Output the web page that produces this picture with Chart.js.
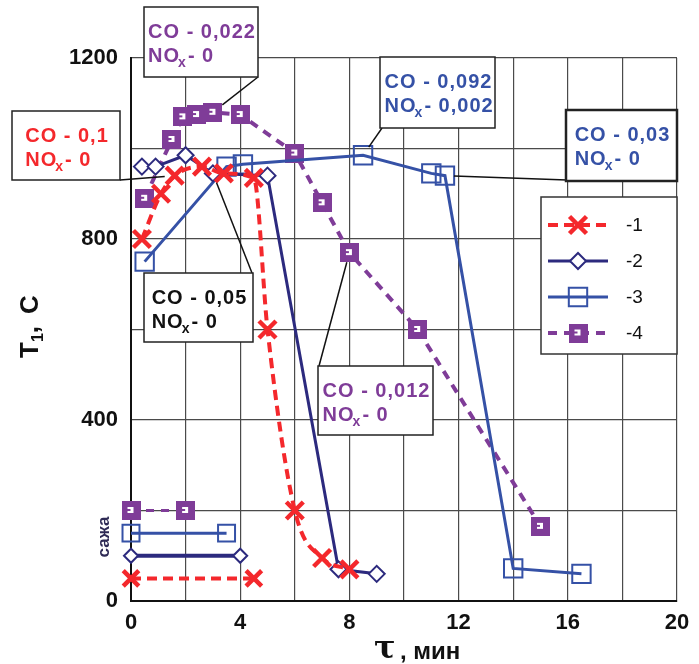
<!DOCTYPE html>
<html>
<head>
<meta charset="utf-8">
<script src="https://cdn.jsdelivr.net/npm/chart.js@4.4.1/dist/chart.umd.min.js"></script>
<style>
  html, body { margin: 0; padding: 0; background: #fff; }
</style>
</head>
<body>
<canvas id="chart" width="699" height="664"></canvas>
<script>
// series labels (legend)
const seriesLabels = ['-1', '-2', '-3', '-4'];

// curve 1 (red, dashed, X)
const x1 = [0.4, 1.1, 1.6, 2.6, 3.4, 4.5, 5.0, 6.0, 7.0, 8.0];
const y1 = [800, 900, 940, 960, 945, 935, 600, 200, 95, 70];
// curve 2 (navy, diamonds)
const x2 = [0.4, 0.9, 2.0, 3.0, 5.0, 7.6, 9.0];
const y2 = [960, 960, 985, 945, 940, 70, 60];
// curve 3 (blue, open squares)
const x3 = [0.5, 3.5, 4.1, 8.5, 11.0, 11.5, 14.0, 16.5];
const y3 = [750, 960, 965, 985, 945, 940, 72, 60];
// curve 4 (purple, dashed, filled squares)
const x4 = [0.5, 1.5, 1.9, 2.4, 3.0, 4.0, 6.0, 7.0, 8.0, 10.5, 15.0];
const y4 = [890, 1020, 1070, 1075, 1080, 1075, 990, 880, 770, 600, 165];

// soot ("сажа") duration bars
const sootX1 = [0, 4.5], sootY1 = [50, 50];
const sootX2 = [0, 4.0], sootY2 = [100, 100];
const sootX3 = [0, 3.5], sootY3 = [150, 150];
const sootX4 = [0, 2.0], sootY4 = [200, 200];

// callout texts
const calloutTexts = [
  ['CO - 0,022', 'NOx- 0'],
  ['CO - 0,1', 'NOx- 0'],
  ['CO - 0,05', 'NOx- 0'],
  ['CO - 0,092', 'NOx- 0,002'],
  ['CO - 0,03', 'NOx- 0'],
  ['CO - 0,012', 'NOx- 0']
];

const RED = '#f4282c', NAVY = '#2c2a7e', BLUE = '#3551a6', PURPLE = '#7f3c98';
const FONT = '"Liberation Sans", Arial, sans-serif';

function pts(xs, ys) {
  return xs.map(function(x, i) { return {x: x, y: ys[i]}; });
}

function purpleMark() {
  const c = document.createElement('canvas');
  c.width = 19; c.height = 19;
  const g = c.getContext('2d');
  g.fillStyle = PURPLE;
  g.fillRect(0, 0, 19, 19);
  g.fillStyle = '#fff';
  g.fillRect(6, 6, 6, 6);
  g.fillStyle = PURPLE;
  g.fillRect(6, 8, 3, 2);
  return c;
}
const purpleImg = purpleMark();

const style1 = {borderColor: RED, borderWidth: 4, borderDash: [10, 6], pointStyle: 'crossRot',
  pointRadius: 12, pointBorderWidth: 4.5, pointBorderColor: RED, pointBackgroundColor: RED,
  cubicInterpolationMode: 'monotone'};
const style2 = {borderColor: NAVY, borderWidth: 3, pointStyle: 'rectRot', pointRadius: 8,
  pointBorderWidth: 2, pointBorderColor: NAVY, pointBackgroundColor: '#fff'};
const style3 = {borderColor: BLUE, borderWidth: 3, pointStyle: 'rect', pointRadius: 13,
  pointBorderWidth: 2, pointBorderColor: BLUE, pointBackgroundColor: 'rgba(255,255,255,0)'};
const style4 = {borderColor: PURPLE, borderWidth: 4, borderDash: [9, 7], pointStyle: purpleImg,
  pointRadius: 9, pointBorderColor: PURPLE, pointBackgroundColor: PURPLE};

function ds(label, data, st, extra) {
  return Object.assign({label: label, data: data, fill: false, tension: 0, clip: false}, st, extra || {});
}

const datasets = [
  ds(seriesLabels[0], pts(x1, y1), style1),
  ds(seriesLabels[1], pts(x2, y2), style2),
  ds(seriesLabels[2], pts(x3, y3), style3),
  ds(seriesLabels[3], pts(x4, y4), style4),
  ds('soot1', pts(sootX1, sootY1), style1, {pointRadius: 11}),
  ds('soot2', pts(sootX2, sootY2), style2, {borderWidth: 4, pointRadius: 7}),
  ds('soot3', pts(sootX3, sootY3), style3, {pointRadius: 12}),
  ds('soot4', pts(sootX4, sootY4), style4, {borderDash: [8, 7], borderWidth: 3})
];

// callout layout: box [x, y, w, h], leader start, target point
const callouts = [
  {text: calloutTexts[0], color: PURPLE, box: [144, 7, 114, 70], attach: [258, 77], ds: 3, idx: 4, gap: 12},
  {text: calloutTexts[1], color: RED, box: [12, 111, 108, 69], attach: [120, 180], ds: 0, idx: 2, gap: 10},
  {text: calloutTexts[2], color: '#111', box: [144, 273, 109, 69], attach: [252, 273], ds: 1, idx: 3, gap: 10},
  {text: calloutTexts[3], color: BLUE, box: [380, 57, 115, 71], attach: [382, 128], ds: 2, idx: 3, gap: 10},
  {text: calloutTexts[4], color: BLUE, box: [566, 110, 111, 71], attach: [567, 180], ds: 2, idx: 5, gap: 9, bw: 2.5},
  {text: calloutTexts[5], color: PURPLE, box: [318, 366, 115, 69], attach: [319, 366], ds: 3, idx: 8, gap: 10}
];

function drawNOx(ctx, str, x, y) {
  const big = 'bold 20px ' + FONT, sub = 'bold 14px ' + FONT;
  if (str.indexOf('NOx') === 0) {
    ctx.font = big;
    ctx.fillText('NO', x, y);
    let w = ctx.measureText('NO').width - 2;
    ctx.font = sub;
    ctx.fillText('x', x + w, y + 5);
    w += ctx.measureText('x').width + 1;
    ctx.font = big;
    ctx.fillText(str.slice(3), x + w, y);
  } else {
    ctx.font = big;
    ctx.fillText(str, x, y);
  }
}

function marker(ctx, d, x, y) {
  ctx.save();
  ctx.setLineDash([]);
  ctx.strokeStyle = d.pointBorderColor;
  ctx.fillStyle = d.pointBackgroundColor;
  ctx.lineWidth = d.pointBorderWidth || 1;
  if (Chart.helpers && Chart.helpers.drawPoint) {
    Chart.helpers.drawPoint(ctx, {pointStyle: d.pointStyle, rotation: 0, radius: d.pointRadius, borderWidth: d.pointBorderWidth || 1}, x, y);
  }
  ctx.restore();
}

const overlay = {
  id: 'overlay',
  afterDraw(chart) {
    const ctx = chart.ctx;
    const xs = chart.scales.x, ys = chart.scales.y;
    ctx.save();
    ctx.letterSpacing = '1px';

    // callouts
    callouts.forEach(function(c) {
      const p = chart.data.datasets[c.ds].data[c.idx];
      const px = xs.getPixelForValue(p.x), py = ys.getPixelForValue(p.y);
      const dx = c.attach[0] - px, dy = c.attach[1] - py, len = Math.hypot(dx, dy);
      ctx.setLineDash([]);
      ctx.strokeStyle = '#111';
      ctx.lineWidth = 1.5;
      ctx.beginPath();
      ctx.moveTo(c.attach[0], c.attach[1]);
      ctx.lineTo(px + dx / len * c.gap, py + dy / len * c.gap);
      ctx.stroke();

      const b = c.box;
      ctx.fillStyle = '#fff';
      ctx.fillRect(b[0], b[1], b[2], b[3]);
      ctx.lineWidth = c.bw || 1.5;
      ctx.strokeStyle = '#222';
      ctx.strokeRect(b[0], b[1], b[2], b[3]);

      ctx.font = 'bold 20px ' + FONT;
      const w = ctx.measureText(c.text[0]).width;
      const tx = b[0] + (b[2] - w) / 2 + 1;
      ctx.fillStyle = c.color;
      ctx.textAlign = 'left';
      ctx.textBaseline = 'alphabetic';
      drawNOx(ctx, c.text[0], tx, b[1] + 31);
      drawNOx(ctx, c.text[1], tx, b[1] + 55);
    });
    ctx.letterSpacing = '0px';

    // legend
    ctx.setLineDash([]);
    ctx.fillStyle = '#fff';
    ctx.fillRect(541, 197, 136, 157);
    ctx.strokeStyle = '#333';
    ctx.lineWidth = 1.5;
    ctx.strokeRect(541, 197, 136, 157);
    const rows = [225, 261, 297, 333];
    for (let i = 0; i < 4; i++) {
      const d = chart.data.datasets[i];
      ctx.save();
      ctx.strokeStyle = d.borderColor;
      ctx.lineWidth = d.borderWidth;
      ctx.setLineDash(d.borderDash || []);
      ctx.beginPath();
      ctx.moveTo(548, rows[i]);
      ctx.lineTo(608, rows[i]);
      ctx.stroke();
      ctx.restore();
      marker(ctx, d, 578, rows[i]);
      ctx.fillStyle = '#111';
      ctx.font = '19px ' + FONT;
      ctx.textAlign = 'left';
      ctx.textBaseline = 'middle';
      ctx.fillText(seriesLabels[i], 626, rows[i] + 1);
    }

    // y axis title  T1, C
    ctx.save();
    ctx.translate(30, 318);
    ctx.rotate(-Math.PI / 2);
    ctx.fillStyle = '#111';
    ctx.textAlign = 'left';
    ctx.textBaseline = 'alphabetic';
    ctx.font = 'bold 26px ' + FONT;
    let cx = -40;
    ctx.fillText('T', cx, 8);
    cx += ctx.measureText('T').width;
    ctx.font = 'bold 16px ' + FONT;
    ctx.fillText('1', cx, 13);
    cx += ctx.measureText('1').width;
    ctx.font = 'bold 26px ' + FONT;
    ctx.fillText(',', cx, 8);
    cx += ctx.measureText(',').width + 12;
    ctx.fillText('C', cx, 8);
    ctx.restore();

    // soot label
    ctx.save();
    ctx.translate(104, 537);
    ctx.rotate(-Math.PI / 2);
    ctx.fillStyle = '#2e2a55';
    ctx.font = 'bold 17px ' + FONT;
    ctx.textAlign = 'center';
    ctx.textBaseline = 'middle';
    ctx.fillText('сажа', 0, 0);
    ctx.restore();

    // x axis title  τ , мин
    ctx.fillStyle = '#111';
    ctx.textAlign = 'left';
    ctx.textBaseline = 'alphabetic';
    ctx.font = 'bold 32px "DejaVu Serif", "Liberation Serif", serif';
    ctx.fillText('τ', 374, 658);
    ctx.font = 'bold 24px ' + FONT;
    ctx.fillText(', мин', 400, 659);

    ctx.restore();
  }
};

new Chart(document.getElementById('chart').getContext('2d'), {
  type: 'line',
  data: {datasets: datasets},
  options: {
    responsive: false,
    animation: false,
    events: [],
    layout: {padding: {left: 0, top: 58, right: 22, bottom: 0}},
    plugins: {legend: {display: false}, tooltip: {enabled: false}},
    scales: {
      x: {
        type: 'linear', min: 0, max: 20,
        afterFit: function(s) { s.height = 63; },
        ticks: {
          stepSize: 2, autoSkip: false, maxRotation: 0, padding: 9, color: '#111',
          font: {family: FONT, size: 22, weight: 'bold'},
          callback: function(v) { return v % 4 === 0 ? v : ''; }
        },
        grid: {color: '#4a4a4a', lineWidth: 1.2, drawTicks: false},
        border: {color: '#111', width: 2}
      },
      y: {
        min: 0, max: 1200,
        afterFit: function(s) { s.width = 131; },
        ticks: {
          stepSize: 200, autoSkip: false, padding: 13, color: '#111',
          font: {family: FONT, size: 22, weight: 'bold'},
          callback: function(v) { return v % 400 === 0 ? v : ''; }
        },
        grid: {color: '#4a4a4a', lineWidth: 1.2, drawTicks: false},
        border: {color: '#111', width: 2}
      }
    }
  },
  plugins: [overlay]
});
</script>
</body>
</html>
